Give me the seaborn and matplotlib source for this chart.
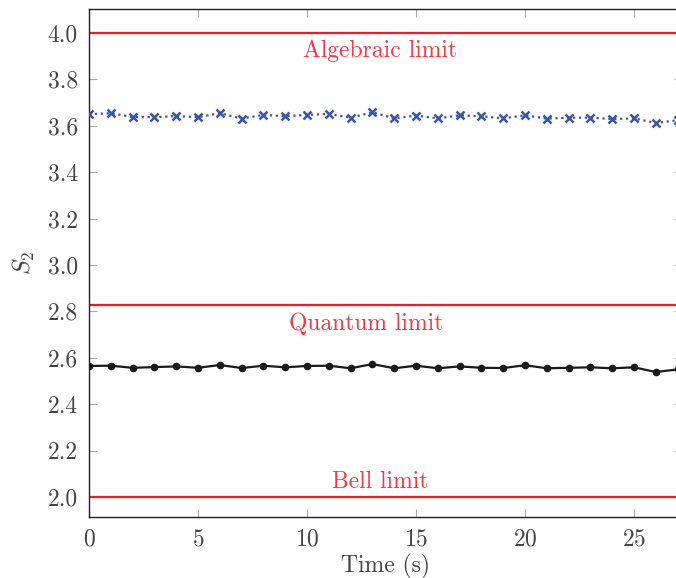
import matplotlib

matplotlib.use("Agg")

import matplotlib.pyplot as plt
import numpy as np
import pandas as pd
import seaborn as sns

TIME = list(range(28))
S2_ENTANGLED = [
    3.650, 3.654, 3.638, 3.637, 3.642, 3.637, 3.654, 3.631, 3.647, 3.641,
    3.647, 3.651, 3.635, 3.658, 3.632, 3.644, 3.632, 3.645, 3.641, 3.632,
    3.645, 3.631, 3.635, 3.635, 3.629, 3.632, 3.612, 3.624,
]
S2_MEASURED = [
    2.565, 2.566, 2.557, 2.560, 2.563, 2.557, 2.569, 2.556, 2.566, 2.559,
    2.565, 2.566, 2.555, 2.573, 2.555, 2.566, 2.555, 2.563, 2.557, 2.556,
    2.568, 2.555, 2.557, 2.559, 2.555, 2.559, 2.539, 2.550,
]
LIMITS = [4.0, 2.0 * np.sqrt(2), 2.0]
LIMIT_LABELS = ["Algebraic limit", "Quantum limit", "Bell limit"]
LABEL_POS = [(13.35, 3.922), (12.7, 2.746), (13.35, 2.065)]

sns.set_theme(style="white")
plt.rcParams["font.family"] = ["cmr10", "DejaVu Serif"]
plt.rcParams["mathtext.fontset"] = "cm"
plt.rcParams["axes.formatter.use_mathtext"] = True

df = pd.DataFrame({"t": TIME, "a": S2_ENTANGLED, "b": S2_MEASURED})

fig = plt.figure(figsize=(6.76, 5.78), dpi=100)
W, H = 676, 578
left, right, top, bottom = 89, 682, 9.3, 517
ax = fig.add_axes([left / W, (H - bottom) / H, (right - left) / W, (bottom - top) / H])

red = "#ee1c25"
for y in LIMITS:
    ax.axhline(y, color=red, lw=1.6, zorder=2)
for label, (x, y) in zip(LIMIT_LABELS, LABEL_POS):
    ax.text(x, y, label, color="#ee3a44", fontsize=17, ha="center", va="center")

blue = "#3a54a8"
sns.lineplot(data=df, x="t", y="a", ax=ax, color=blue, linestyle=":", lw=1.6,
             marker="x", markersize=5.5, markeredgewidth=1.8, markeredgecolor=blue,
             zorder=3)
sns.lineplot(data=df, x="t", y="b", ax=ax, color="#1a1a1a", linestyle="-", lw=1.6,
             marker="o", markersize=5.5, markeredgewidth=0, zorder=3)

ax.set_xlim(0, 27.2)
ax.set_ylim(1.914, 4.102)
ax.set_xticks([0, 5, 10, 15, 20, 25])
ax.set_yticks(np.arange(2.0, 4.01, 0.2))
ax.set_yticklabels([f"{v:.1f}" for v in np.arange(2.0, 4.01, 0.2)])
ax.tick_params(direction="in", length=6, width=0.8, color="#aaaaaa",
               labelsize=17, labelcolor="#444444", top=True, right=True,
               left=True, bottom=True, pad=8)
ax.set_xlabel("Time (s)", fontsize=17, color="#444444", labelpad=3)
ax.set_ylabel("$S_2$", fontsize=17.5, color="#444444", labelpad=8)
for side in ["left", "bottom", "top", "right"]:
    ax.spines[side].set_color("#222222")
    ax.spines[side].set_linewidth(1.0)

fig.savefig("out.png", dpi=100)
